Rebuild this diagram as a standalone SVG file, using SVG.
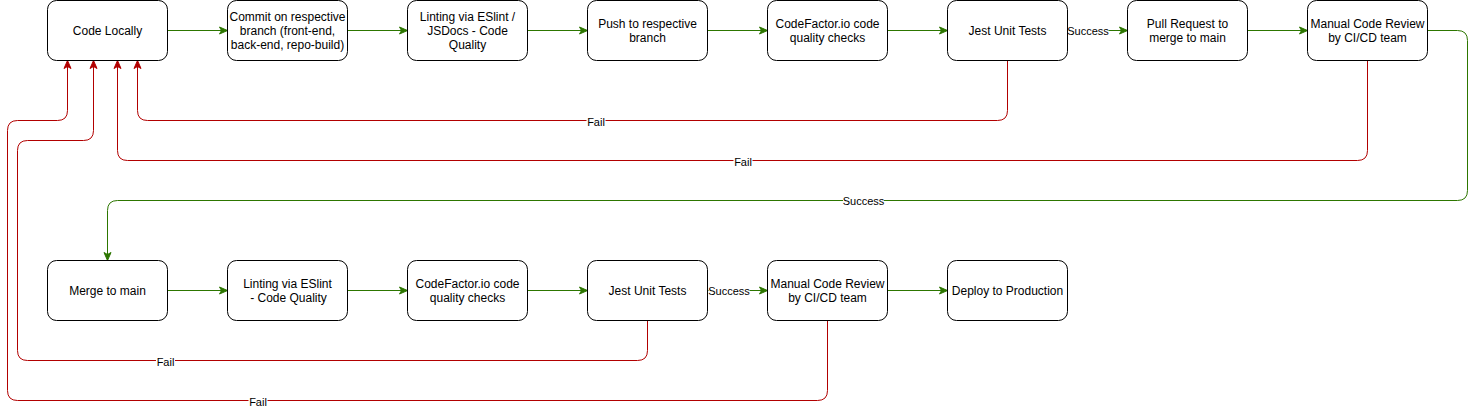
<svg xmlns="http://www.w3.org/2000/svg" width="1476" height="409" viewBox="0 0 1476 409">
<style>
.node rect{fill:#fff;stroke:#000;stroke-width:1}
.node text{font-family:"Liberation Sans",Arial,Helvetica,sans-serif;font-size:12px;fill:#000;text-anchor:middle}
.ok{fill:none;stroke:#2D7600;stroke-width:1;marker-end:url(#ag)}
.fail{fill:none;stroke:#B20000;stroke-width:1;marker-end:url(#ar)}
.lbl rect{fill:#fff}
.lbl text{font-family:"Liberation Sans",Arial,Helvetica,sans-serif;font-size:11px;fill:#000;text-anchor:middle}
</style>
<defs>
<marker id="ag" markerUnits="userSpaceOnUse" markerWidth="10" markerHeight="10" viewBox="0 0 10 10" refX="9" refY="5" orient="auto"><path d="M1,1.5 L9,5 L1,8.5 L3,5 Z" fill="#2D7600" stroke="#2D7600"/></marker>
<marker id="ar" markerUnits="userSpaceOnUse" markerWidth="10" markerHeight="10" viewBox="0 0 10 10" refX="9" refY="5" orient="auto"><path d="M1,1.5 L9,5 L1,8.5 L3,5 Z" fill="#B20000" stroke="#B20000"/></marker>
</defs>
<rect width="1476" height="409" fill="#fff"/>
<g id="connectors">
<path class="ok" d="M167.5,30.5 H227.5"/>
<path class="ok" d="M347.5,30.5 H407.5"/>
<path class="ok" d="M527.5,30.5 H587.5"/>
<path class="ok" d="M707.5,30.5 H767.5"/>
<path class="ok" d="M887.5,30.5 H947.5"/>
<path class="ok" d="M1067.5,30.5 H1127.5"/>
<path class="ok" d="M1247.5,30.5 H1307.5"/>
<path class="ok" d="M1427.5,30.5 H1457.5 Q1467.5,30.5 1467.5,40.5 V190.5 Q1467.5,200.5 1457.5,200.5 H117.5 Q107.5,200.5 107.5,210.5 V260.5"/>
<path class="ok" d="M167.5,290.5 H227.5"/>
<path class="ok" d="M347.5,290.5 H407.5"/>
<path class="ok" d="M527.5,290.5 H587.5"/>
<path class="ok" d="M707.5,290.5 H767.5"/>
<path class="ok" d="M887.5,290.5 H947.5"/>
<path class="fail" d="M1007.5,60.5 V110.5 Q1007.5,120.5 997.5,120.5 H147.5 Q137.5,120.5 137.5,110.5 V60.5"/>
<path class="fail" d="M1367.5,60.5 V150.5 Q1367.5,160.5 1357.5,160.5 H127.5 Q117.5,160.5 117.5,150.5 V60.5"/>
<path class="fail" d="M647.5,320.5 V350.5 Q647.5,360.5 637.5,360.5 H27.5 Q17.5,360.5 17.5,350.5 V150.5 Q17.5,140.5 27.5,140.5 H83.5 Q93.5,140.5 93.5,130.5 V60.5"/>
<path class="fail" d="M827.5,320.5 V390.5 Q827.5,400.5 817.5,400.5 H17.5 Q7.5,400.5 7.5,390.5 V130.5 Q7.5,120.5 17.5,120.5 H57.5 Q67.5,120.5 67.5,110.5 V60.5"/>
<g class="lbl">
<rect x="1067.5" y="24" width="41" height="14"/><text x="1088" y="35">Success</text>
<rect x="843" y="194" width="41" height="13"/><text x="863.5" y="204.5">Success</text>
<rect x="708.5" y="284" width="41" height="14"/><text x="729" y="295">Success</text>
<rect x="586.5" y="115" width="19" height="12"/><text x="596" y="125.5">Fail</text>
<rect x="733.5" y="155" width="19" height="12"/><text x="743" y="165.5">Fail</text>
<rect x="156" y="355" width="19" height="12"/><text x="165.5" y="365.5">Fail</text>
<rect x="248.5" y="395" width="19" height="12"/><text x="258" y="405.5">Fail</text>
</g>
</g>
<g id="n-code-locally" class="node"><rect x="47.5" y="0.5" width="120" height="60" rx="9"/><text x="107.5" y="35">Code Locally</text></g>
<g id="n-commit" class="node"><rect x="227.5" y="0.5" width="120" height="60" rx="9"/><text x="287.5" y="21">Commit on respective</text><text x="287.5" y="35">branch (front-end,</text><text x="287.5" y="49">back-end, repo-build)</text></g>
<g id="n-lint1" class="node"><rect x="407.5" y="0.5" width="120" height="60" rx="9"/><text x="467.5" y="21">Linting via ESlint /</text><text x="467.5" y="35">JSDocs - Code</text><text x="467.5" y="49">Quality</text></g>
<g id="n-push" class="node"><rect x="587.5" y="0.5" width="120" height="60" rx="9"/><text x="647.5" y="28">Push to respective</text><text x="647.5" y="42">branch</text></g>
<g id="n-cf1" class="node"><rect x="767.5" y="0.5" width="120" height="60" rx="9"/><text x="827.5" y="28">CodeFactor.io code</text><text x="827.5" y="42">quality checks</text></g>
<g id="n-jest1" class="node"><rect x="947.5" y="0.5" width="120" height="60" rx="9"/><text x="1007.5" y="35">Jest Unit Tests</text></g>
<g id="n-pr" class="node"><rect x="1127.5" y="0.5" width="120" height="60" rx="9"/><text x="1187.5" y="28">Pull Request to</text><text x="1187.5" y="42">merge to main</text></g>
<g id="n-review1" class="node"><rect x="1307.5" y="0.5" width="120" height="60" rx="9"/><text x="1367.5" y="28">Manual Code Review</text><text x="1367.5" y="42">by CI/CD team</text></g>
<g id="n-merge" class="node"><rect x="47.5" y="260.5" width="120" height="60" rx="9"/><text x="107.5" y="295">Merge to main</text></g>
<g id="n-lint2" class="node"><rect x="227.5" y="260.5" width="120" height="60" rx="9"/><text x="287.5" y="288">Linting via ESlint</text><text x="288.5" y="302">- Code Quality</text></g>
<g id="n-cf2" class="node"><rect x="407.5" y="260.5" width="120" height="60" rx="9"/><text x="467.5" y="288">CodeFactor.io code</text><text x="467.5" y="302">quality checks</text></g>
<g id="n-jest2" class="node"><rect x="587.5" y="260.5" width="120" height="60" rx="9"/><text x="647.5" y="295">Jest Unit Tests</text></g>
<g id="n-review2" class="node"><rect x="767.5" y="260.5" width="120" height="60" rx="9"/><text x="827.5" y="288">Manual Code Review</text><text x="827.5" y="302">by CI/CD team</text></g>
<g id="n-deploy" class="node"><rect x="947.5" y="260.5" width="120" height="60" rx="9"/><text x="1007.5" y="295">Deploy to Production</text></g>
</svg>
